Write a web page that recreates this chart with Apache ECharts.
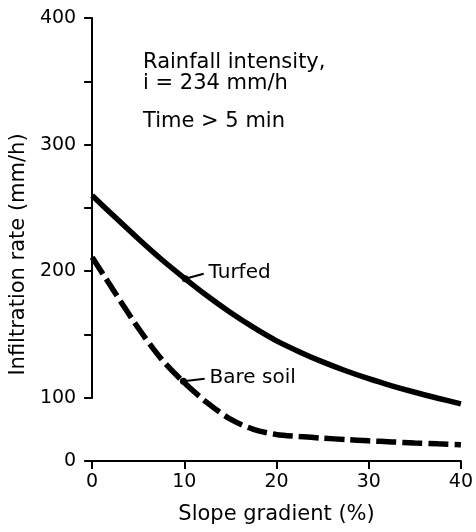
<!DOCTYPE html>
<html><head><meta charset="utf-8">
<script src="https://cdn.jsdelivr.net/npm/echarts@6/dist/echarts.min.js"></script>
<style>html,body{margin:0;padding:0;background:#fff}#c{width:476px;height:532px}</style>
</head><body><div id="c"></div>
<script>
// Slope gradient (%)
const slope = [0, 2.5, 5, 7.5, 10, 12.5, 15, 17.5, 20, 22.5, 25, 27.5, 30, 32.5, 35, 37.5, 40];
// Infiltration rate (mm/h)
const turfed = [259.8, 242.5, 225.6, 209.4, 194.5, 180.3, 167.3, 155.5, 144.9, 136.2, 128.3, 121.3, 115.0, 109.4, 104.3, 99.2, 90.3];
const bareSoil = [211, 182.7, 155.1, 130.7, 111.8, 91.9, 66.1, 50, 41.9, 38.7, 36.1, 33.9, 31.9, 30.2, 28.5, 27.1, 25.8];
const seriesNames = ['Turfed', 'Bare soil'];
// label pointer: [dot point, leader end]
const turfedPointer = [[10.1, 194], [12.1, 198]];
const barePointer = [[9.9, 113], [12.2, 115]];
const annotation1 = 'Rainfall intensity,\ni = 234 mm/h';
const annotation2 = 'Time > 5 min';
const xName = 'Slope gradient (%)';
const yName = 'Infiltration rate (mm/h)';

const FONT = '"DejaVu Sans", sans-serif';
const chart = echarts.init(document.getElementById('c'));

function pointer(p, name) {
  return {
    markPoint: {
      silent: true, animation: false,
      symbol: 'circle', symbolSize: 7,
      itemStyle: {color: '#000'},
      label: {show: false},
      data: [{coord: p[0]}]
    },
    markLine: {
      silent: true, animation: false,
      symbol: ['none', 'none'],
      lineStyle: {color: '#000', width: 2, type: 'solid'},
      label: {show: true, position: 'end', formatter: name, color: '#000',
              fontFamily: FONT, fontSize: 20, distance: 5},
      data: [[{coord: p[0]}, {coord: p[1]}]]
    }
  };
}

chart.setOption({
  animation: false,
  backgroundColor: '#fff',
  grid: {left: 92, right: 13, top: 18, bottom: 71},
  xAxis: {
    type: 'value', min: 0, max: 40, interval: 10,
    name: xName, nameLocation: 'middle', nameGap: 43,
    nameTextStyle: {color: '#000', fontFamily: FONT, fontSize: 21},
    axisLine: {lineStyle: {color: '#000', width: 2}},
    axisTick: {show: true, length: 8, lineStyle: {color: '#000', width: 2}},
    axisLabel: {color: '#000', fontFamily: FONT, fontSize: 19, margin: 12},
    splitLine: {show: false}
  },
  yAxis: {
    type: 'value', min: 0, max: 400, interval: 50,
    breaks: [{start: 0, end: 100, gap: 50}],
    breakArea: {show: false},
    name: yName, nameLocation: 'middle', nameGap: 58, nameRotate: 90,
    nameTextStyle: {color: '#000', fontFamily: FONT, fontSize: 21, padding: [0, 30, 0, 0]},
    axisLine: {show: true, lineStyle: {color: '#000', width: 2}},
    axisTick: {show: true, length: 8, lineStyle: {color: '#000', width: 2}},
    axisLabel: {color: '#000', fontFamily: FONT, fontSize: 19, margin: 16,
      formatter: v => (v % 100 === 0 ? String(v) : '')},
    splitLine: {show: false}
  },
  graphic: [
    {type: 'text', left: 143, top: 52, style: {text: annotation1, fill: '#000',
      font: '21px ' + FONT, lineHeight: 21}},
    {type: 'text', left: 143, top: 111, style: {text: annotation2, fill: '#000',
      font: '21px ' + FONT}}
  ],
  series: [
    Object.assign({
      name: seriesNames[0], type: 'line', smooth: 0.3, showSymbol: false,
      data: slope.map((x, i) => [x, turfed[i]]),
      lineStyle: {color: '#000', width: 5.5}
    }, pointer(turfedPointer, seriesNames[0])),
    Object.assign({
      name: seriesNames[1], type: 'line', smooth: 0.3, showSymbol: false,
      data: slope.map((x, i) => [x, bareSoil[i]]),
      lineStyle: {color: '#000', width: 5.5, type: [20, 6]}
    }, pointer(barePointer, seriesNames[1]))
  ]
});
</script></body></html>
